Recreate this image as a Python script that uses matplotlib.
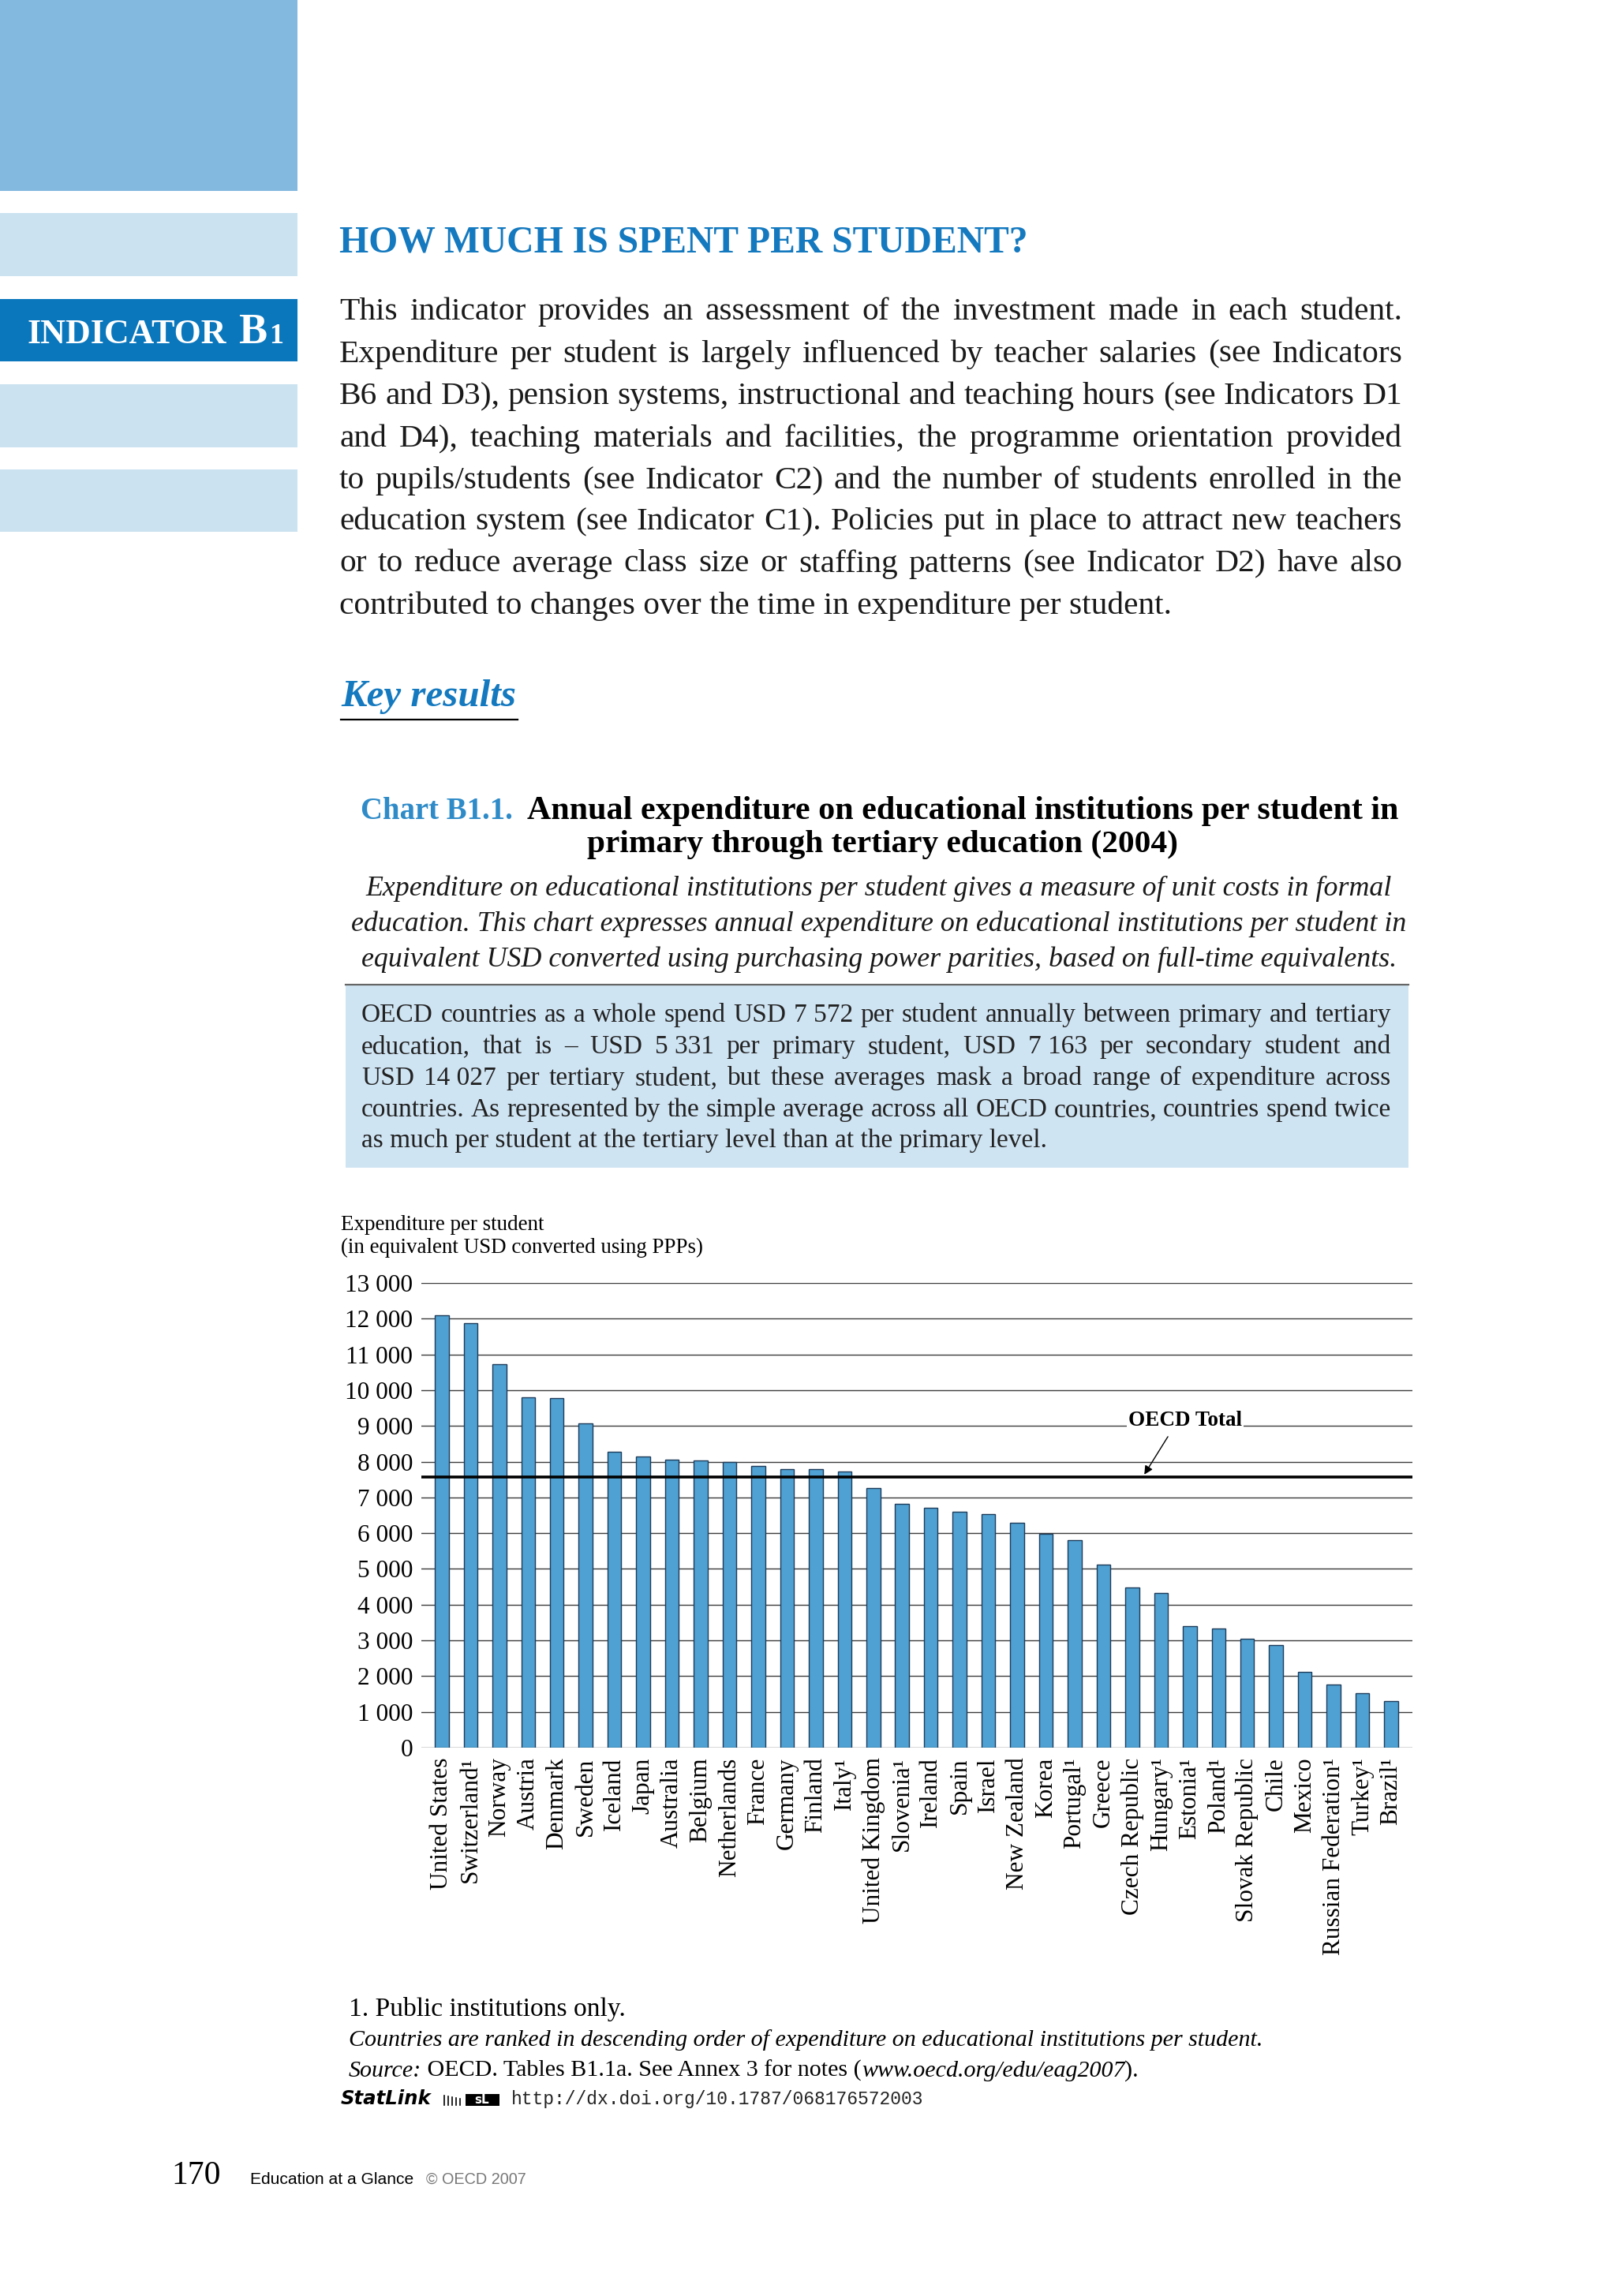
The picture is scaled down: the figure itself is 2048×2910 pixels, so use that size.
import matplotlib
matplotlib.use("Agg")
import matplotlib.pyplot as plt
from matplotlib.patches import Rectangle
from matplotlib.lines import Line2D
from matplotlib.ticker import FuncFormatter

# page size in pixels
W, H = 2048, 2910
SERIF = "Liberation Serif"
BLUE = "#1479bf"

# chart data
countries = ["United States", "Switzerland¹", "Norway", "Austria", "Denmark", "Sweden",
             "Iceland", "Japan", "Australia", "Belgium", "Netherlands", "France",
             "Germany", "Finland", "Italy¹", "United Kingdom", "Slovenia¹", "Ireland",
             "Spain", "Israel", "New Zealand", "Korea", "Portugal¹", "Greece",
             "Czech Republic", "Hungary¹", "Estonia¹", "Poland¹", "Slovak Republic",
             "Chile", "Mexico", "Russian Federation¹", "Turkey¹", "Brazil¹"]
expenditure = [12090, 11880, 10720, 9800, 9770, 9080, 8280, 8150, 8060, 8030, 8000, 7880,
               7800, 7800, 7730, 7270, 6820, 6710, 6590, 6530, 6300, 5990, 5800, 5120,
               4480, 4330, 3400, 3330, 3050, 2870, 2120, 1770, 1520, 1300]
oecd_total = 7572
y_ticks = list(range(0, 13001, 1000))

intro_lines = [
    "This indicator provides an assessment of the investment made in each student.",
    "Expenditure per student is largely influenced by teacher salaries (see Indicators",
    "B6 and D3), pension systems, instructional and teaching hours (see Indicators D1",
    "and D4), teaching materials and facilities, the programme orientation provided",
    "to pupils/students (see Indicator C2) and the number of students enrolled in the",
    "education system (see Indicator C1). Policies put in place to attract new teachers",
    "or to reduce average class size or staffing patterns (see Indicator D2) have also",
    "contributed to changes over the time in expenditure per student.",
]
subtitle_lines = [
    "Expenditure on educational institutions per student gives a measure of unit costs in formal",
    "education. This chart expresses annual expenditure on educational institutions per student in",
    "equivalent USD converted using purchasing power parities, based on full-time equivalents.",
]
box_lines = [
    "OECD countries as a whole spend USD 7\u00a0572 per student annually between primary and tertiary",
    "education, that is \u2013 USD 5\u00a0331 per primary student, USD 7\u00a0163 per secondary student and",
    "USD 14\u00a0027 per tertiary student, but these averages mask a broad range of expenditure across",
    "countries. As represented by the simple average across all OECD countries, countries spend twice",
    "as much per student at the tertiary level than at the primary level.",
]

fig = plt.figure(figsize=(W / 100, H / 100), dpi=100)
fig.patch.set_facecolor("white")
renderer = fig.canvas.get_renderer()


def fx(x):
    return x / W


def fy(y):
    return 1 - y / H


def text_at(x, y, s, size, **kw):
    kw.setdefault("family", SERIF)
    kw.setdefault("va", "baseline")
    return fig.text(fx(x), fy(y), s, fontsize=size, **kw)


def width_of(t):
    return t.get_window_extent(renderer).width


def fitted(x, y, s, w, **kw):
    t = text_at(x, y, s, 20, **kw)
    t.set_fontsize(20 * w / width_of(t))
    return t


def common_size(lines, width, **kw):
    sizes = []
    for line in lines:
        t = text_at(0, 0, line, 20, **kw)
        sizes.append(20 * width / width_of(t))
        t.remove()
    return min(sizes)


def justified(lines, x0, x1, baselines, size, **kw):
    for i, (line, yb) in enumerate(zip(lines, baselines)):
        if i == len(lines) - 1:
            text_at(x0, yb, line, size, **kw)
            continue
        words = line.split(" ")
        objs = [text_at(0, yb, w_, size, **kw) for w_ in words]
        widths = [width_of(o) for o in objs]
        gap = (x1 - x0 - sum(widths)) / (len(words) - 1)
        x = x0
        for o, wd in zip(objs, widths):
            o.set_x(fx(x))
            x += wd + gap


def run(x, y, parts, size, gap=0):
    for s, kw in parts:
        t = text_at(x, y, s, size, **kw)
        x += width_of(t) + gap
    return x


def block(x0, y0, x1, y1, color):
    fig.add_artist(Rectangle((fx(x0), fy(y1)), (x1 - x0) / W, (y1 - y0) / H,
                             transform=fig.transFigure, color=color, lw=0))


# left side colour blocks
block(0, 0, 377, 242, "#84b9df")
block(0, 270, 377, 350, "#cbe2f1")
block(0, 379, 377, 458, "#0a77bd")
block(0, 487, 377, 567, "#cbe2f1")
block(0, 595, 377, 674, "#cbe2f1")
fitted(35, 435, "INDICATOR", 252, color="white", weight="bold")
fitted(302, 435, "B", 36, color="white", weight="bold")
fitted(341, 435, "1", 18, color="white", weight="bold")

# heading and intro
fitted(430, 319, "HOW MUCH IS SPENT PER STUDENT?", 870, color=BLUE, weight="bold")
size = common_size(intro_lines[:-1], 1347)
justified(intro_lines, 430, 1777, [405, 458.6, 512, 566, 619, 671, 724.5, 778],
          size, color="#1a1a1a")

fitted(432, 895, "Key results", 222, color=BLUE, style="italic", weight="bold")
fig.add_artist(Line2D([fx(432), fx(656)], [fy(912), fy(912)],
                      transform=fig.transFigure, color="black", lw=1.6))

# chart title
fitted(457, 1038, "Chart B1.1.", 193, color="#2e8bc8", weight="bold")
fitted(668, 1038, "Annual expenditure on educational institutions per student in",
       1104, weight="bold")
fitted(1119, 1080, "primary through tertiary education (2004)", 750, weight="bold",
       ha="center")
size = common_size(subtitle_lines, 1335, style="italic")
for line, yb in zip(subtitle_lines, [1135, 1180, 1225]):
    text_at(1114, yb, line, size, style="italic", ha="center", color="#1a1a1a")

# highlighted box
fig.add_artist(Line2D([fx(438), fx(1785)], [fy(1248), fy(1248)],
                      transform=fig.transFigure, color="#666666", lw=1.6))
block(438, 1249, 1785, 1480, "#cfe4f3")
size = common_size(box_lines[:-1], 1305)
justified(box_lines, 458, 1763, [1295, 1335, 1375, 1415, 1454], size, color="#222222")

# axis caption
size = common_size(["(in equivalent USD converted using PPPs)"], 460)
text_at(432, 1559, "Expenditure per student", size)
text_at(432, 1588, "(in equivalent USD converted using PPPs)", size)

# bar chart
ax = fig.add_axes([fx(534), fy(2215), (1790 - 534) / W, (2215 - 1626) / H])
x = list(range(len(countries)))
ax.bar(x, expenditure, width=0.48, color="#4ea1d2", edgecolor="#1e3b5a", linewidth=1.0,
       zorder=2)
ax.axhline(oecd_total, color="black", lw=2.6, zorder=3)
ax.set_xlim(-0.71, len(countries) - 1 + 0.74)
ax.set_ylim(0, 13000)
ax.set_yticks(y_ticks)
ax.yaxis.set_major_formatter(FuncFormatter(lambda v, p: f"{v:,.0f}".replace(",", " ")))
ax.set_axisbelow(True)
ax.yaxis.grid(True, color="#3c3c3c", lw=1.0)
ax.set_xticks(x)
ax.set_xticklabels(countries, rotation=90, ha="center", va="top", family=SERIF,
                   fontsize=22.5)
for lab in ax.get_yticklabels():
    lab.set_family(SERIF)
    lab.set_fontsize(22.5)
ax.tick_params(axis="both", length=0)
ax.tick_params(axis="y", pad=8)
ax.tick_params(axis="x", pad=9)
for sp in ax.spines.values():
    sp.set_visible(False)
ax.text(25.84, 9000, "OECD Total", family=SERIF, weight="bold", fontsize=19.5,
        ha="center", va="baseline", zorder=4,
        bbox=dict(facecolor="white", edgecolor="none", pad=1.5))
ax.annotate("", xy=(24.42, 7640), xytext=(25.24, 8700),
            arrowprops=dict(arrowstyle="-|>", color="black", lw=1.0,
                            mutation_scale=16, shrinkA=0, shrinkB=0), zorder=4)

# notes
fitted(442, 2555, "1. Public institutions only.", 351)
size = common_size(["Countries are ranked in descending order of expenditure on "
                    "educational institutions per student."], 1158, style="italic")
text_at(442, 2593, "Countries are ranked in descending order of expenditure on "
        "educational institutions per student.", size, style="italic")
run(442, 2632, [("Source:", {"style": "italic"}),
                ("\u00a0OECD. Tables B1.1a. See Annex 3 for notes (", {}),
                ("www.oecd.org/edu/eag2007", {"style": "italic"}),
                (").", {})], size)
fitted(432, 2667, "StatLink", 115, family="DejaVu Sans", weight="bold", style="italic")
for i in range(5):
    xx = 563 + i * 5
    fig.add_artist(Line2D([fx(xx), fx(xx)], [fy(2668), fy(2656 + i)],
                          transform=fig.transFigure, color="black", lw=1.2))
block(590, 2654, 633, 2669, "black")
text_at(611, 2666, "sL", 11, family="DejaVu Sans", weight="bold", color="white",
        ha="center")
fitted(648, 2667, "http://dx.doi.org/10.1787/068176572003", 524, family="Liberation Mono",
       color="#222222")

# page footer
fitted(217, 2768, "170", 62)
fitted(317, 2768, "Education at a Glance", 206, family="Liberation Sans")
fitted(540, 2768, "\u00a9 OECD 2007", 127, family="Liberation Sans", color="#777777")

fig.savefig("out.png", dpi=100)
